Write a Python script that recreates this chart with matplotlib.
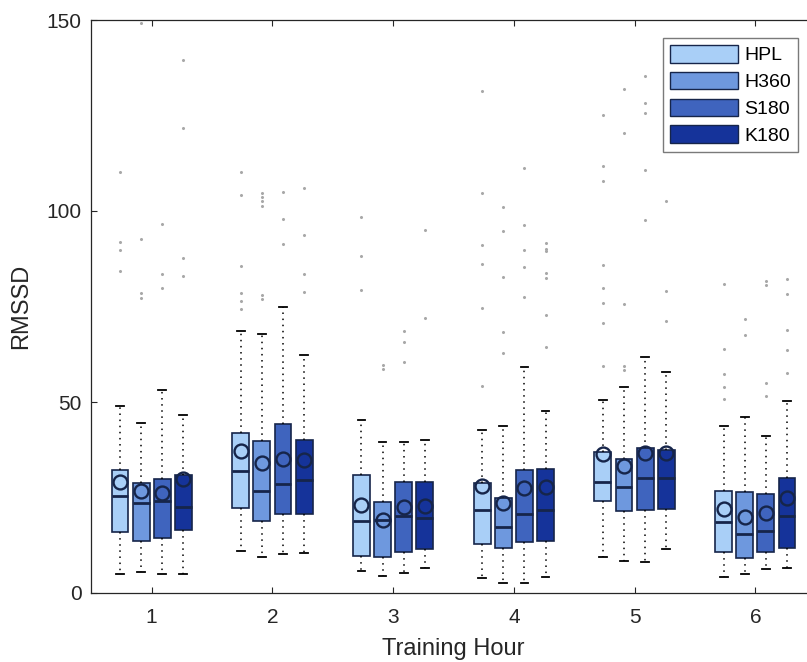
import matplotlib
matplotlib.use("Agg")
import matplotlib.pyplot as plt
from matplotlib.patches import Patch

plt.rcParams['font.family'] = ['Liberation Sans', 'DejaVu Sans']

hours = [1, 2, 3, 4, 5, 6]
series = ["HPL", "H360", "S180", "K180"]
colors = ["#A9CFF7", "#6E98DE", "#3F64BE", "#15339A"]

# rows: HPL, H360, S180, K180 ; columns: hours 1..6
q1 = [[16.0, 22.3, 9.8, 12.8, 24.1, 10.8],
      [13.6, 18.9, 9.3, 11.7, 21.4, 9.2],
      [14.5, 20.7, 10.7, 13.4, 21.7, 10.8],
      [16.4, 20.8, 11.5, 13.6, 21.9, 11.8]]
med = [[25.5, 32.0, 18.9, 21.6, 29.0, 18.6],
       [23.6, 26.8, 19.1, 17.2, 27.7, 15.5],
       [24.1, 28.6, 20.2, 20.7, 30.2, 16.1],
       [22.5, 29.5, 19.6, 21.6, 30.2, 20.2]]
q3 = [[32.1, 41.9, 30.9, 28.8, 36.9, 26.6],
      [28.9, 39.8, 23.9, 24.9, 35.1, 26.4],
      [29.9, 44.2, 29.1, 32.1, 38.0, 25.8],
      [30.9, 40.1, 29.0, 32.5, 37.5, 30.0]]
whislo = [[5.0, 10.9, 5.8, 3.8, 9.3, 4.2],
          [5.6, 9.5, 4.4, 2.7, 8.3, 5.0],
          [5.0, 10.2, 5.3, 2.6, 8.1, 6.4],
          [5.1, 10.4, 6.5, 4.1, 11.4, 6.5]]
whishi = [[48.9, 68.5, 45.3, 42.8, 50.5, 43.7],
          [44.4, 67.9, 39.6, 43.7, 53.9, 46.2],
          [53.1, 74.8, 39.4, 59.2, 61.9, 41.0],
          [46.5, 62.2, 40.1, 47.6, 57.8, 50.3]]
means = [[29.1, 37.2, 23.0, 28.0, 36.3, 21.9],
         [26.8, 34.1, 19.1, 23.5, 33.3, 19.9],
         [26.1, 35.2, 22.4, 27.4, 36.6, 21.0],
         [29.8, 34.9, 22.9, 27.7, 36.6, 24.9]]
fliers = [
    [[110.1, 91.9, 89.7, 84.3],
     [110.3, 104.2, 85.7, 78.5, 76.4, 74.3],
     [98.3, 88.3, 79.3],
     [131.4, 104.6, 91.1, 86.1, 74.5, 54.3],
     [125.1, 111.9, 107.8, 85.8, 79.8, 75.9, 70.8, 59.5],
     [81.0, 64.0, 57.3, 54.0, 50.8]],
    [[149.1, 92.8, 78.5, 77.3],
     [104.8, 103.7, 102.5, 101.4, 78.1, 77.0],
     [59.7, 58.6],
     [101.1, 94.7, 82.7, 68.4, 62.7],
     [132.0, 120.5, 75.7, 59.5, 58.3],
     [71.6, 67.6]],
    [[96.5, 83.6, 79.9],
     [105.1, 98.0, 91.3],
     [68.6, 65.6, 60.4],
     [111.2, 96.3, 89.7, 85.3, 77.6],
     [135.3, 128.2, 125.6, 110.7, 97.6],
     [81.7, 80.6, 55.1, 51.7]],
    [[139.4, 121.8, 87.6, 82.9],
     [105.9, 93.6, 83.4, 78.8],
     [95.0, 72.1],
     [91.7, 90.1, 89.6, 83.8, 82.4, 72.8, 64.3],
     [102.5, 79.0, 71.2],
     [82.1, 78.2, 68.8, 63.6, 57.7]],
]

edge = "#16254A"
W, H = 807, 662
fig = plt.figure(figsize=(W / 100, H / 100), dpi=100)
ax = fig.add_axes([91.3 / W, (H - 593) / H, (815.7 - 91.3) / W, 573 / H])

spacing = 0.175
bw = 0.14
for s in range(4):
    off = (s - 1.5) * spacing
    stats = []
    for h in range(6):
        stats.append(dict(q1=q1[s][h], med=med[s][h], q3=q3[s][h],
                          whislo=whislo[s][h], whishi=whishi[s][h],
                          mean=means[s][h], fliers=fliers[s][h]))
    pos = [x + off for x in hours]
    ax.bxp(stats, positions=pos, widths=bw, capwidths=0.065,
           showmeans=True, meanline=False, patch_artist=True,
           boxprops=dict(facecolor=colors[s], edgecolor=edge, linewidth=1.2),
           medianprops=dict(color=edge, linewidth=2.0),
           whiskerprops=dict(color="black", linestyle=(0, (1, 3)), linewidth=1.1),
           capprops=dict(color="black", linewidth=1.3),
           meanprops=dict(marker="o", markerfacecolor="none",
                          markeredgecolor=edge, markeredgewidth=1.7,
                          markersize=10),
           flierprops=dict(marker="o", markersize=1.2, markerfacecolor="#a8a8a8",
                           markeredgecolor="#a8a8a8", linestyle="none"),
           manage_ticks=False)

ax.set_xlim(0.5, 6.5)
ax.set_ylim(0, 150)
ax.set_xticks(hours)
ax.set_xticklabels([str(h) for h in hours])
ax.set_yticks([0, 50, 100, 150])
ax.tick_params(direction="in", length=4.5, width=0.8, color="#262626",
               labelsize=15, labelcolor="#262626", top=True, right=True)
ax.tick_params(axis="x", pad=11)
ax.tick_params(axis="y", pad=7)
for sp in ax.spines.values():
    sp.set_color("#262626")
    sp.set_linewidth(0.9)

ax.set_xlabel("Training Hour", fontsize=17, color="#262626", labelpad=8)
ax.set_ylabel("RMSSD", fontsize=17, color="#262626", labelpad=10)

handles = [Patch(facecolor=c, edgecolor=edge, linewidth=1.0) for c in colors]
leg = ax.legend(handles, series, loc="upper left",
                bbox_to_anchor=((663.3 - 91.3) / (815.7 - 91.3), (593 - 38.3) / 573),
                fontsize=14, handlelength=3.5, handleheight=1.0,
                labelspacing=0.38, handletextpad=0.3, borderpad=0.35,
                borderaxespad=0.0, fancybox=False, framealpha=1.0,
                edgecolor="#7a7a7a")
leg.get_frame().set_linewidth(1.0)

fig.savefig("out.png", dpi=100)
